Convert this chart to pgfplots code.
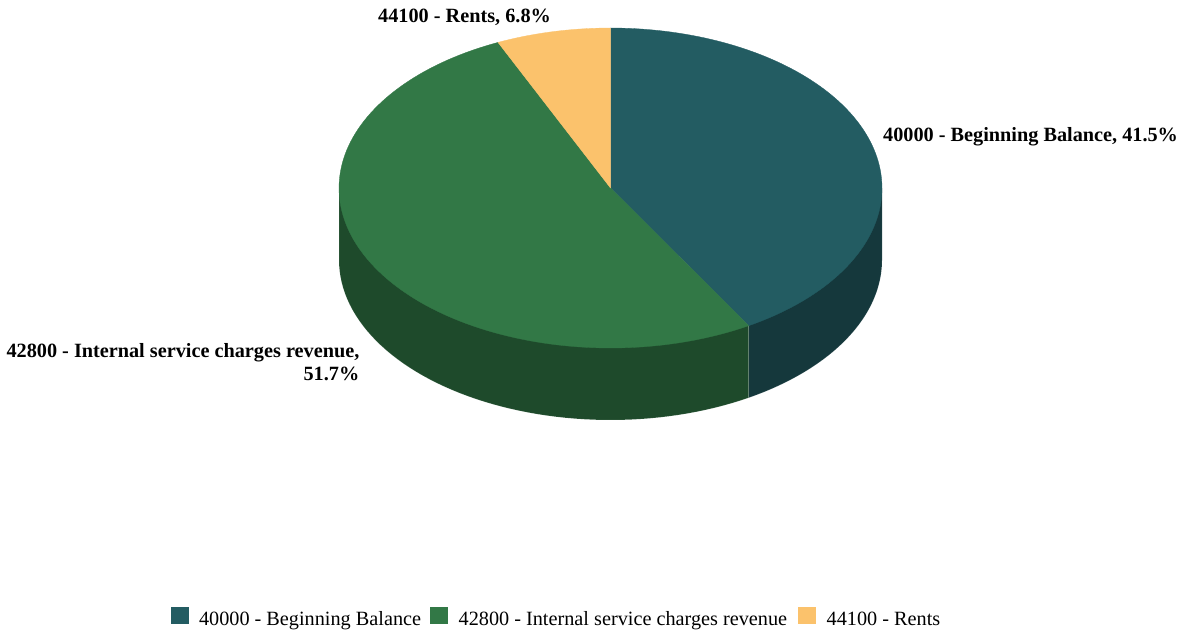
\documentclass[border=0pt]{standalone}
\usepackage{fontspec}
\setmainfont{Liberation Serif}
\usepackage{pgfplots}
\pgfplotsset{compat=1.18}

\definecolor{tealtop}{HTML}{235C62}
\definecolor{tealside}{HTML}{15383C}
\definecolor{greentop}{HTML}{327846}
\definecolor{greenside}{HTML}{1E4A2B}
\definecolor{ambertop}{HTML}{FBC26C}

% Slice shares in percent
\def\shareA{41.5}
\def\shareB{51.7}
\def\shareC{6.8}

% Ellipse of the pie top, wall depth (all in pixel units of the axis)
\def\cx{610.5}
\def\cy{188}
\def\rx{271.5}
\def\ry{160}
\def\depth{72}

\pgfmathsetmacro{\angA}{3.6*\shareA}
\pgfmathsetmacro{\angB}{3.6*(\shareA+\shareB)}

\pgfplotsset{
  pie top/.style={fill=#1, draw=#1, line width=0.3pt,
    mark=none, samples=120, variable=\t},
  pie wall/.style={fill=#1, draw=white, draw opacity=0.15, line width=0.5pt,
    mark=none, samples=61, variable=\t, forget plot},
}

\newcommand{\labelfont}{\fontsize{20.25}{23}\selectfont\bfseries}
\newcommand{\keygap}[1]{\hspace*{#1}}

\begin{document}
\begin{tikzpicture}
\begin{axis}[
  scale only axis, width=1185pt, height=634pt,
  xmin=0, xmax=1185, ymin=0, ymax=634, y dir=reverse,
  hide axis, clip=false,
  legend columns=3,
  legend cell align=left,
  legend image code/.code={\fill[#1,draw=none] (0pt,-5pt) rectangle (17.5pt,12.5pt);},
  legend style={draw=none, fill=none, at={(axis cs:171,617)}, anchor=west,
    inner sep=0pt, outer sep=0pt, font=\fontsize{20.25}{23}\selectfont,
    /tikz/every even column/.append style={column sep=0pt},
    nodes={inner sep=0pt, outer sep=0pt}},
]
% Outer walls of the two front slices: lower rim, then back along the upper rim
\addplot[pie wall=tealside, domain=\angA:90] ({\cx+\rx*sin(\t)},{\cy-\ry*cos(\t)+\depth})
  -- (axis cs:{\cx+\rx},{\cy})
  -- (axis cs:{\cx+\rx*sin(\angA)},{\cy-\ry*cos(\angA)})
  -- cycle;
\addplot[pie wall=greenside, domain=\angA:270] ({\cx+\rx*sin(\t)},{\cy-\ry*cos(\t)+\depth})
  -- (axis cs:{\cx-\rx},{\cy})
  -- (axis cs:{\cx+\rx*sin(\angA)},{\cy-\ry*cos(\angA)})
  -- cycle;

% Top faces of the slices
\addplot[pie top=tealtop, domain=0:\angA] ({\cx+\rx*sin(\t)},{\cy-\ry*cos(\t)})
  -- (axis cs:\cx,\cy) -- cycle;
\addlegendentry{\keygap{10.5pt}40000 - Beginning Balance\keygap{9pt}}
\addplot[pie top=greentop, domain=\angA:\angB] ({\cx+\rx*sin(\t)},{\cy-\ry*cos(\t)})
  -- (axis cs:\cx,\cy) -- cycle;
\addlegendentry{\keygap{11pt}42800 - Internal service charges revenue\keygap{11pt}}
\addplot[pie top=ambertop, domain=\angB:360] ({\cx+\rx*sin(\t)},{\cy-\ry*cos(\t)})
  -- (axis cs:\cx,\cy) -- cycle;
\addlegendentry{\keygap{11pt}44100 - Rents}

% Slice labels
\node[anchor=base west, inner sep=0pt, font=\labelfont] at (axis cs:883,141)
  {40000 - Beginning Balance, \shareA\%};
\node[anchor=base east, inner sep=0pt, font=\labelfont] at (axis cs:359.5,357)
  {42800 - Internal service charges revenue,};
\node[anchor=base east, inner sep=0pt, font=\labelfont] at (axis cs:359.5,380)
  {\shareB\%};
\node[anchor=base west, inner sep=0pt, font=\labelfont] at (axis cs:378,22.5)
  {44100 - Rents, \shareC\%};
\end{axis}
\pgfresetboundingbox
\path[use as bounding box] (0,0) rectangle (1185pt,634pt);
\end{tikzpicture}
\end{document}
